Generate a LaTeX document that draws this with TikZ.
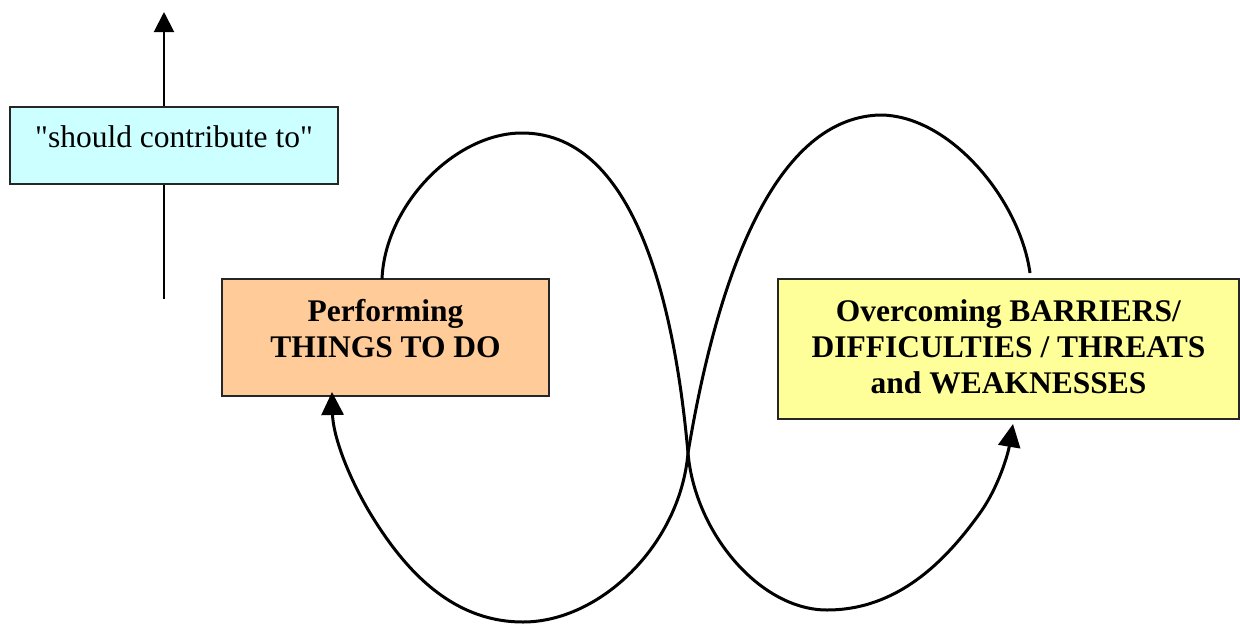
\documentclass[tikz,border=0pt]{standalone}
\usepackage{fontspec}
\setmainfont{Liberation Serif}
\newfontfamily\plainquotes{Liberation Serif}[Ligatures=TeXOff]
\usetikzlibrary{arrows.meta}
\definecolor{cyanfill}{HTML}{CCFFFF}
\definecolor{orangefill}{HTML}{FFCC99}
\definecolor{yellowfill}{HTML}{FFFF99}
\begin{document}
\begin{tikzpicture}[x=1pt,y=-1pt,
  box/.style={draw=black!85, line width=2pt, inner sep=0pt},
  boldtext/.style={align=center, font=\fontsize{31.5}{36}\selectfont\bfseries},
  loopline/.style={line width=3pt, -{Triangle[length=23pt,width=22pt]}},
  upline/.style={line width=2pt}]
\useasboundingbox (0,0) rectangle (1240,624);

% boxes
\node[box, fill=cyanfill, minimum width=328pt, text height=40pt, text depth=37pt,
      font=\plainquotes\fontsize{31.5}{36}\selectfont] (cyanbox) at (174,145.5) {"should contribute to"};
\node[box, boldtext, fill=orangefill, minimum width=327pt, text height=78pt, text depth=39pt]
      (orange) at (385.5,337.5) {Performing\\THINGS TO DO};
\node[box, boldtext, fill=yellowfill, minimum width=461pt, text height=114pt, text depth=26pt]
      (yellow) at (1008.5,349) {Overcoming BARRIERS/\\DIFFICULTIES / THREATS\\and WEAKNESSES};

% vertical arrow through the cyan box
\coordinate (cbot) at (164,299);
\coordinate (ctop) at (164,12);
\draw[upline] (cbot) -- (cbot |- cyanbox.south);
\draw[upline, -{Triangle[length=20pt,width=20pt]}] (cbot |- cyanbox.north) -- (ctop);

% figure-eight loops
\coordinate (otop) at (382,279);
\coordinate (ytop) at (1030,273);
\coordinate (cross) at (688,453);
\coordinate (obot) at (332,392);
\coordinate (ybot) at (1013,424);

\draw[loopline] (otop) .. controls (385,205) and (455,133) .. (522,133)
   .. controls (640,133) and (676,320) .. (cross)
   .. controls (695,533) and (760,610) .. (827,610)
   .. controls (897,610) and (945,562) .. (980,513)
   .. controls (998.6,487) and (1008,454) .. (ybot);

\draw[loopline] (ytop) .. controls (1020,200) and (950,115) .. (880,115)
   .. controls (770,118) and (715,290) .. (cross)
   .. controls (680,545) and (600,622) .. (523,622)
   .. controls (448,622) and (401,564) .. (370,513)
   .. controls (347,474.4) and (333,435) .. (obot);
\end{tikzpicture}
\end{document}
